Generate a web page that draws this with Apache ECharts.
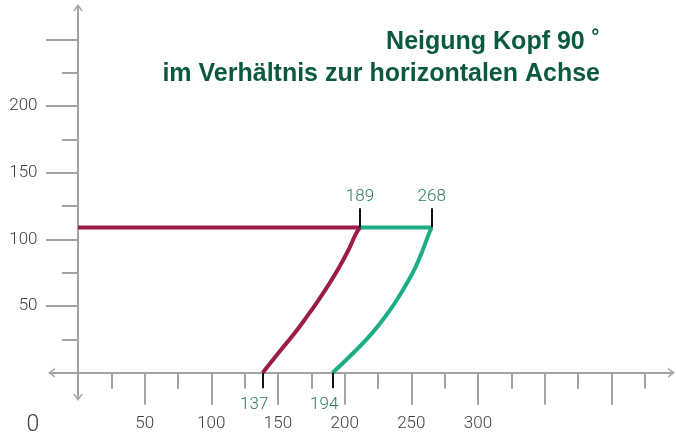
<!DOCTYPE html>
<html><head><meta charset="utf-8">
<script src="https://cdn.jsdelivr.net/npm/echarts@6/dist/echarts.min.js"></script>
<style>html,body{margin:0;padding:0;background:#fff}#c{width:676px;height:436px}</style>
</head><body><div id="c"></div>
<script>
// ---- data ----
const titleLines = ['Neigung Kopf 90 \u02DA', 'im Verh\u00e4ltnis zur horizontalen Achse'];
const xTickMajor = [50, 100, 150, 200, 250, 300, 350, 400];
const xTickMinor = [25, 75, 125, 175, 225, 275, 325, 375, 425];
const xTickLabels = [50, 100, 150, 200, 250, 300];
const yTickMajor = [50, 100, 150, 200, 250];
const yTickMinor = [25, 75, 125, 175, 225];
const yTickLabels = [50, 100, 150, 200];
const originLabel = '0';
const levelY = 109;
const curveY = [109, 104.4, 91.9, 79.4, 66.9, 54.4, 41.9, 29.4, 16.9, 0];
const purpleCurveX = [211.5, 208.5, 202.75, 196, 188.5, 180.25, 171.5, 162.25, 152, 138.5];
const greenCurveX = [265.25, 263.25, 258.5, 253.25, 246.5, 239, 230.25, 220.25, 208.5, 191];
const topMarkLabels = ['189', '268'];
const bottomMarkLabels = ['137', '194'];
const topMarkEndY = 123.5;
const bottomMarkEndY = -11.6;

// ---- styles ----
const PURPLE = '#9b1c47';
const GREEN = '#1bae85';
const AXIS = '#a3a3a3';
const LABEL = '#3d3d3d';
const MARKLABEL = '#2b7b62';
const TITLE = '#0b5a40';
const FONT = 'Roboto, "Liberation Sans", sans-serif';
const arrow = 'path://M0,7 L5,0 L10,7 L8.2,7 L5,2.6 L1.8,7 Z';

const purpleCurve = purpleCurveX.map((x, i) => [x, curveY[i]]);
const greenCurve = greenCurveX.map((x, i) => [x, curveY[i]]);
const purpleFlat = [[0, levelY], [purpleCurveX[0], levelY]];
const greenFlat = [[purpleCurveX[0], levelY], [greenCurveX[0], levelY]];

const xMin = -19.875, xMax = 445.125, yMin = -18.525, yMax = 273.975;

function mainAxis(dim, major, labels) {
  return {
    type: 'value', min: dim === 'x' ? xMin : yMin, max: dim === 'x' ? xMax : yMax,
    position: dim === 'x' ? 'bottom' : 'left',
    splitLine: { show: false },
    axisLine: { show: true, onZero: true, symbol: [arrow, arrow], symbolSize: [10, 7],
      lineStyle: { color: AXIS, width: 2 } },
    axisTick: { show: true, customValues: major, length: 32, lineStyle: { color: AXIS, width: 2 } },
    axisLabel: { show: true, customValues: labels, margin: dim === 'x' ? 18 : 14,
      color: LABEL, fontSize: 17, fontFamily: FONT, fontWeight: 300 }
  };
}
function minorAxis(dim, minor) {
  return {
    type: 'value', min: dim === 'x' ? xMin : yMin, max: dim === 'x' ? xMax : yMax,
    position: dim === 'x' ? 'bottom' : 'left',
    splitLine: { show: false },
    axisLine: { show: false, onZero: true, onZeroAxisIndex: 1 },
    axisTick: { show: true, customValues: minor, length: 16, lineStyle: { color: AXIS, width: 2 } },
    axisLabel: { show: false }
  };
}

const markLabel = (txt, pad) => ({
  show: true, position: 'end', formatter: txt, distance: pad ? 8 : 3,
  color: MARKLABEL, fontSize: 17, fontFamily: FONT, fontWeight: 300,
  padding: pad ? [0, 17, 0, 0] : 0
});

const chart = echarts.init(document.getElementById('c'));
chart.setOption({
  animation: false,
  title: {
    text: titleLines.join('\n'), left: 600, top: 26, padding: 0, textAlign: 'right',
    textStyle: { color: TITLE, fontSize: 25, fontWeight: 'bold', fontFamily: '"Liberation Sans", Arial, sans-serif', lineHeight: 32 }
  },
  grid: { left: 51.5, right: 4.5, top: 7.5, bottom: 38.5, containLabel: false, outerBoundsMode: 'none' },
  xAxis: [mainAxis('x', xTickMajor, xTickLabels), minorAxis('x', xTickMinor)],
  yAxis: [mainAxis('y', yTickMajor, yTickLabels), minorAxis('y', yTickMinor)],
  graphic: [{
    type: 'text', x: 33, y: 425,
    style: { text: originLabel, fill: LABEL, font: '300 23px ' + FONT, align: 'center', verticalAlign: 'middle' }
  }],
  series: [
    { type: 'line', data: greenFlat, symbol: 'none', lineStyle: { color: GREEN, width: 4 }, silent: true },
    { type: 'line', data: greenCurve, symbol: 'none', smooth: 0.4, lineStyle: { color: GREEN, width: 4 }, silent: true },
    { type: 'line', data: purpleFlat, symbol: 'none', lineStyle: { color: PURPLE, width: 4 }, silent: true },
    { type: 'line', data: purpleCurve, symbol: 'none', smooth: 0.4, lineStyle: { color: PURPLE, width: 4 }, silent: true,
      markLine: {
        silent: true, symbol: ['none', 'none'], animation: false,
        lineStyle: { color: '#111', width: 2, type: 'solid' },
        emphasis: { disabled: true },
        data: [
          [{ coord: [purpleCurveX[0], levelY], label: markLabel(topMarkLabels[0], false) }, { coord: [purpleCurveX[0], topMarkEndY] }],
          [{ coord: [greenCurveX[0], levelY], label: markLabel(topMarkLabels[1], false) }, { coord: [greenCurveX[0], topMarkEndY] }],
          [{ coord: [purpleCurveX[purpleCurveX.length - 1], 0], label: markLabel(bottomMarkLabels[0], true) }, { coord: [purpleCurveX[purpleCurveX.length - 1], bottomMarkEndY] }],
          [{ coord: [greenCurveX[greenCurveX.length - 1], 0], label: markLabel(bottomMarkLabels[1], true) }, { coord: [greenCurveX[greenCurveX.length - 1], bottomMarkEndY] }]
        ]
      }
    }
  ]
});
</script></body></html>
